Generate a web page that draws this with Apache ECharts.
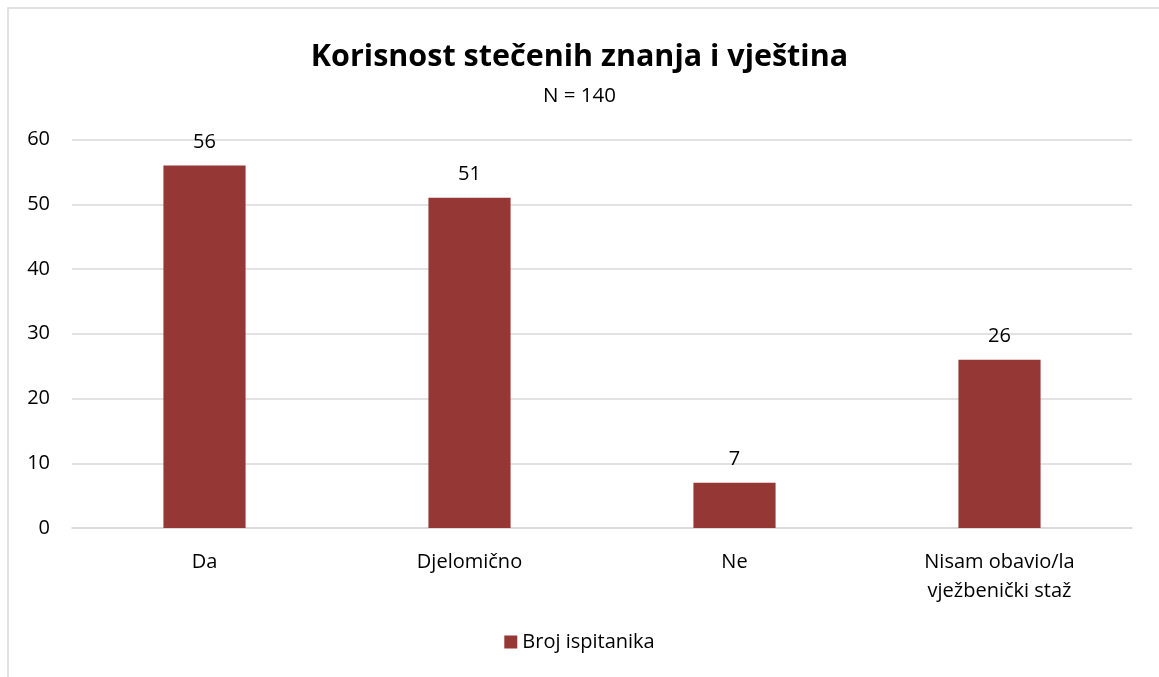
<!DOCTYPE html>
<html><head><meta charset="utf-8">
<script src="https://cdn.jsdelivr.net/npm/echarts@6/dist/echarts.min.js"></script>
<style>html,body{margin:0;padding:0;background:#fff}#c{width:1159px;height:677px}</style>
</head><body><div id="c"></div>
<script>
const categories = ['Da', 'Djelomično', 'Ne', 'Nisam obavio/la\nvježbenički staž'];
const values = [56, 51, 7, 26];
const seriesName = 'Broj ispitanika';
const titleText = 'Korisnost stečenih znanja i vještina';
const subtitleText = 'N = 140';
const yTicks = [0, 10, 20, 30, 40, 50, 60];

const FONT = '"Open Sans", "Noto Sans", sans-serif';
const chart = echarts.init(document.getElementById('c'), null, {renderer: 'canvas'});
chart.setOption({
  animation: false,
  backgroundColor: '#fff',
  graphic: [{
    type: 'rect', shape: {x: 8, y: 8, width: 1200, height: 700},
    style: {fill: 'none', stroke: '#d9d9d9', lineWidth: 1.5}, silent: true
  }],
  title: [{
    text: titleText, left: 'center', top: 37,
    textStyle: {fontFamily: FONT, fontSize: 30.5, fontWeight: 'bold', color: '#000'}
  }, {
    text: subtitleText, left: 'center', top: 81,
    textStyle: {fontFamily: FONT, fontSize: 20.5, fontWeight: 'normal', color: '#000'}
  }],
  legend: {
    data: [seriesName], bottom: 20, left: 'center', icon: 'rect',
    itemWidth: 13, itemHeight: 13, itemGap: 5,
    textStyle: {fontFamily: FONT, fontSize: 20, color: '#000'}
  },
  grid: {left: 72, right: 27, top: 139.5, bottom: 149, containLabel: false},
  xAxis: {
    type: 'category', data: categories,
    axisLine: {lineStyle: {color: '#d9d9d9', width: 1.5}},
    axisTick: {show: false},
    axisLabel: {fontFamily: FONT, fontSize: 20, color: '#000', margin: 20, lineHeight: 29}
  },
  yAxis: {
    type: 'value', min: yTicks[0], max: yTicks[yTicks.length - 1], interval: 10,
    axisLine: {show: false}, axisTick: {show: false},
    axisLabel: {fontFamily: FONT, fontSize: 20, color: '#000', margin: 22},
    splitLine: {lineStyle: {color: '#d9d9d9', width: 1.5}}
  },
  series: [{
    name: seriesName, type: 'bar', data: values, barWidth: '31%',
    itemStyle: {color: '#953735'},
    label: {show: true, position: 'top', distance: 13, fontFamily: FONT, fontSize: 20, color: '#000'}
  }]
});
</script></body></html>
